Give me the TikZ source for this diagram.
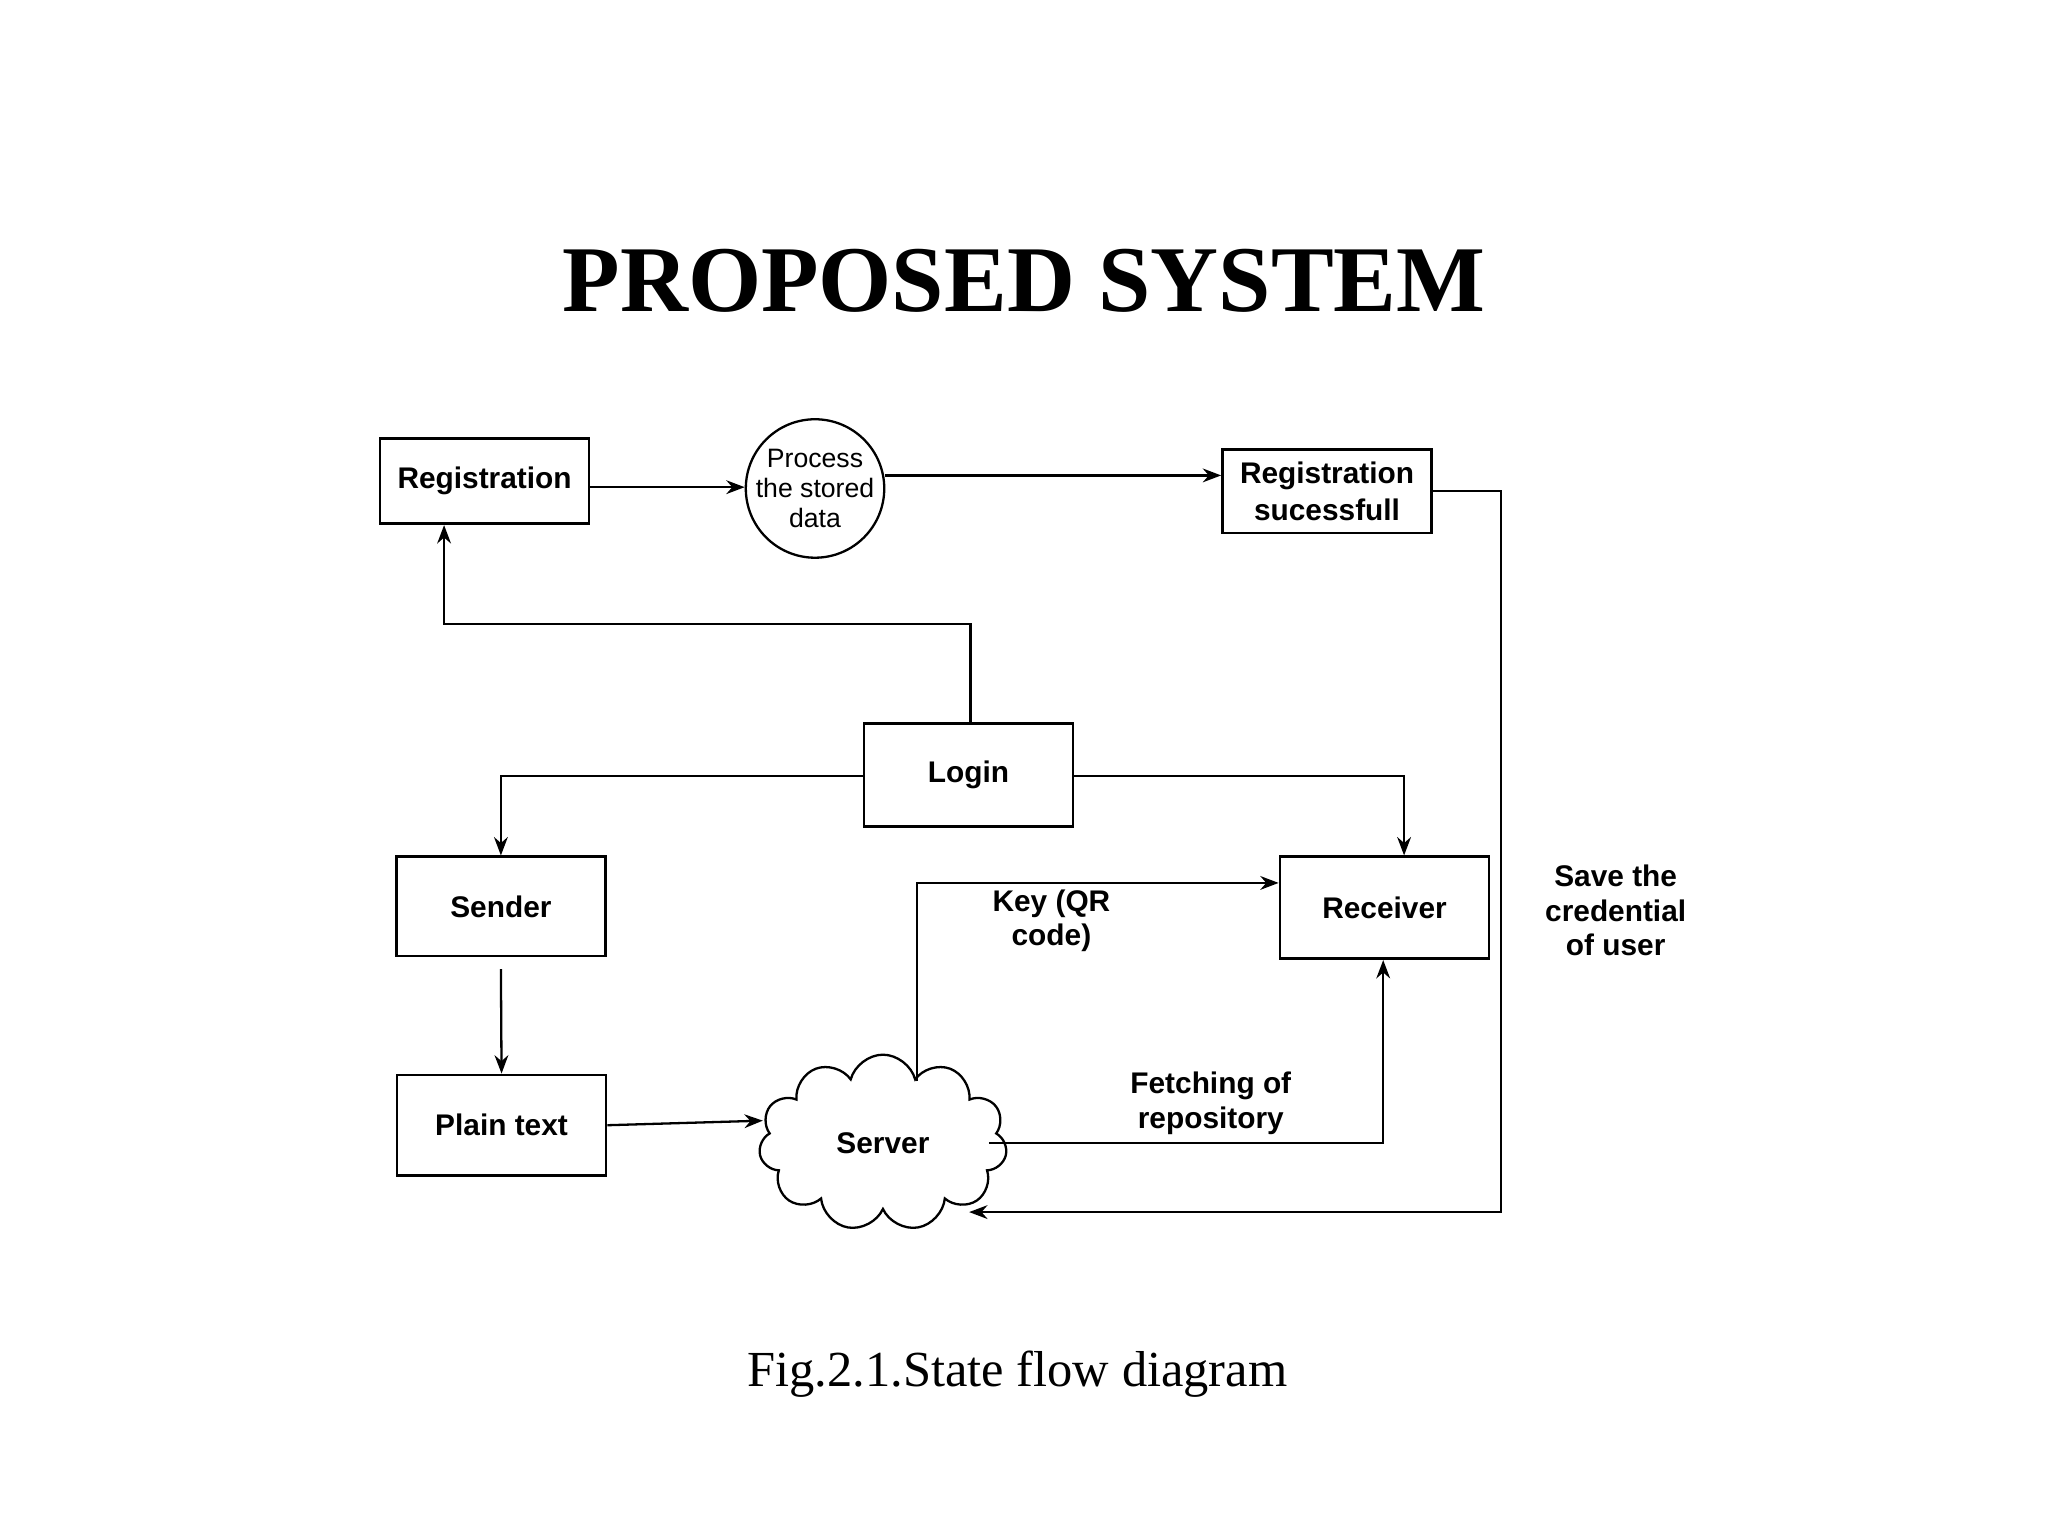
\documentclass[tikz,border=0pt]{standalone}
\usepackage{fontspec}
\setmainfont{Liberation Serif}
\newfontfamily\boxfont{Liberation Sans}
\usetikzlibrary{positioning,arrows.meta,shapes.symbols}

\begin{document}
\begin{tikzpicture}[> = {Stealth[length=4pt,width=3pt]},
  blk/.style = {draw, line width=0.6pt, minimum width=1.6cm, align=center,
    font=\boxfont\bfseries\fontsize{6.5}{8}\selectfont},
  lbl/.style = {align=center, font=\boxfont\bfseries\fontsize{6.5}{7.6}\selectfont},
  line/.style = {line width=0.5pt}]
\useasboundingbox (0,0) rectangle (15.68,-11.76);

\node (title) at (7.84,-2.15) {\bfseries\fontsize{20.5}{24}\selectfont PROPOSED SYSTEM};
\node (caption) at (7.79,-10.52) {\fontsize{11}{13}\selectfont Fig.2.1.State flow diagram};

\node (reg) [blk, minimum height=0.65cm] at (3.71,-3.685) {Registration};
\node (proc) [draw, circle, line width=0.5pt, minimum size=1.06cm, inner sep=-2pt,
  font=\boxfont\fontsize{5.8}{6.6}\selectfont, align=center] at (6.24,-3.74) {Process\\the stored\\data};
\node (regok) [blk, minimum height=0.64cm, inner sep=1pt] at (10.16,-3.76) {Registration\\sucessfull};
\node (login) [blk, minimum height=0.79cm] at (7.415,-5.935) {Login};
\node (sender) [blk, minimum height=0.76cm] at (3.835,-6.94) {Sender};
\node (receiver) [blk, minimum height=0.78cm] at (10.60,-6.95) {Receiver};
\node (plain) [blk, minimum height=0.77cm] at (3.84,-8.615) {Plain text};
\node (server) [draw, cloud, cloud puffs=11, aspect=1.4, line width=0.5pt,
  minimum width=1.9cm, minimum height=1.35cm, lbl] at (6.76,-8.75) {Server};

\node (save) [lbl] at (12.37,-6.97) {Save the\\credential\\of user};
\node (key) [lbl] at (8.05,-7.05) {Key (QR\\code)};
\node (fetch) [lbl] at (9.27,-8.45) {Fetching of\\repository};

\draw[line,->] (reg.east |- 0,-3.73) -- (proc.west |- 0,-3.73);
\draw[line,->] (proc.east |- 0,-3.64) -- (regok.west |- 0,-3.64);
\draw[line,->] (regok.east) -- (11.49,-3.76) |- (7.42,-9.28);
\draw[line,->] (7.43,-5.54) -- (7.43,-4.78) -| ([xshift=-0.31cm]reg.south);
\draw[line,->] (login.west |- 0,-5.94) -| (sender.north);
\draw[line,->] (login.east |- 0,-5.94) -| ([xshift=0.15cm]receiver.north);
\draw[line,->] ([yshift=-0.09cm]sender.south) -- (plain.north);
\draw[line,->] (plain.east) -- (5.84,-8.58);
\draw[line,->] (7.02,-8.28) |- (receiver.west |- 0,-6.76);
\draw[line,->] (7.57,-8.75) -| ([xshift=-0.01cm]receiver.south);
\end{tikzpicture}
\end{document}
